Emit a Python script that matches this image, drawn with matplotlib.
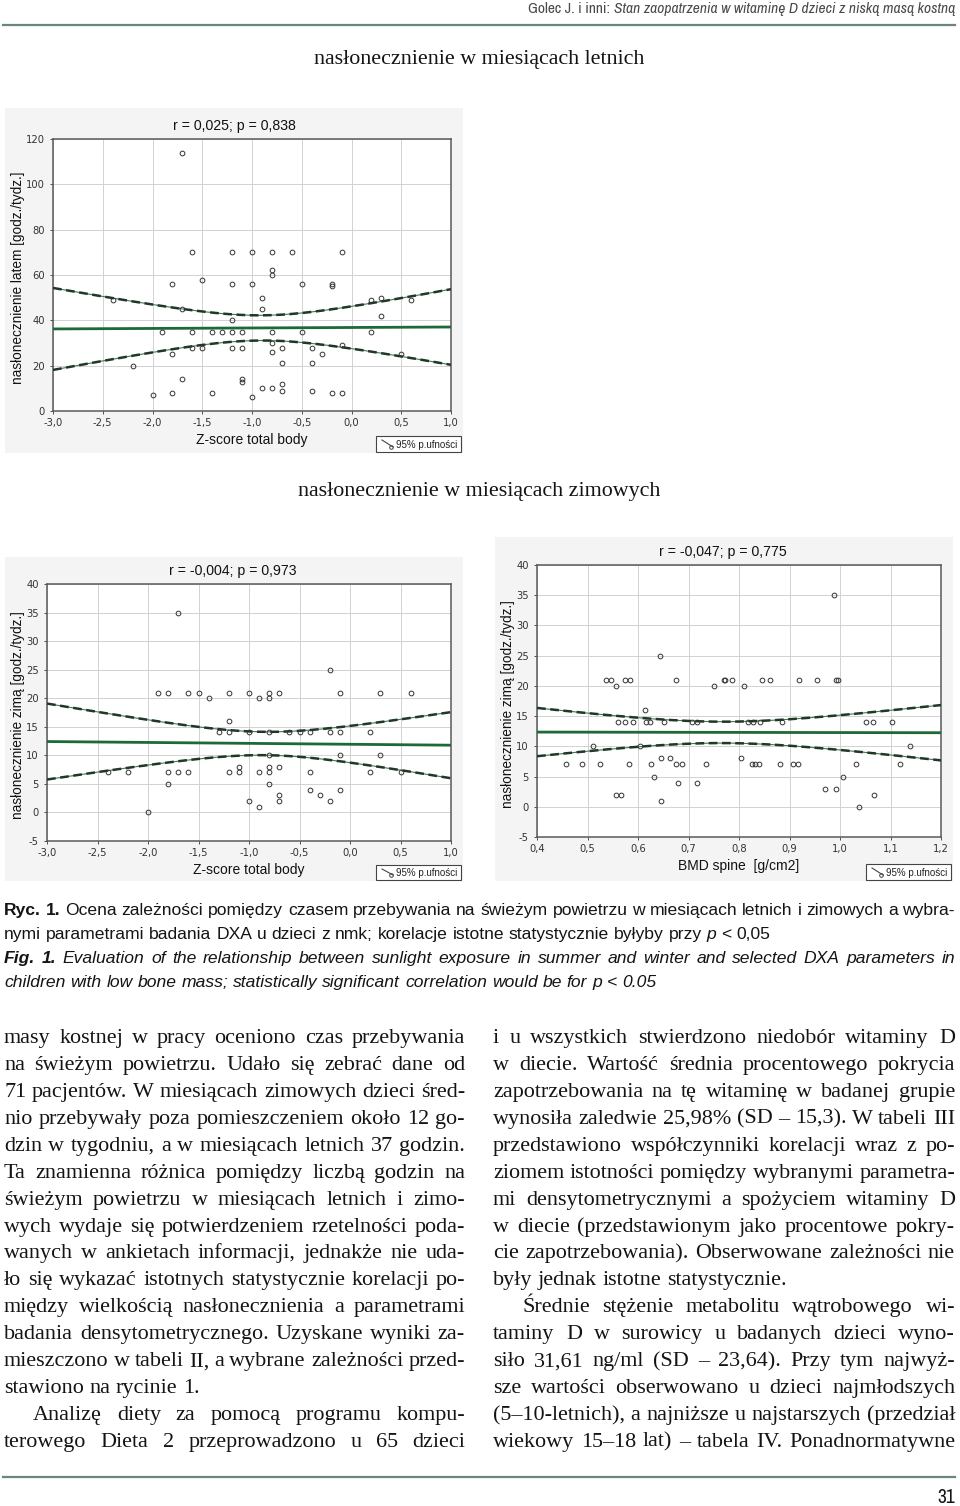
import numpy as np
import matplotlib
matplotlib.use("Agg")
from matplotlib import pyplot as plt
from matplotlib import font_manager
from matplotlib.patches import Rectangle
from matplotlib.lines import Line2D
from matplotlib.ticker import FuncFormatter, MultipleLocator

W, H = 960, 1506

# --- data ---
summer_z = [-1.7, -1.6, -1.2, -1.0, -0.8, -0.6, -0.1,
            -1.8, -1.5, -1.2, -1.0, -0.8, -0.8, -0.5, -0.2, -0.2,
            -2.4, -1.7, -0.9, -0.9, 0.2, 0.3, 0.6, 0.3, -1.2,
            -1.9, -1.6, -1.4, -1.3, -1.2, -1.1, -0.8, -0.5, 0.2,
            -0.8, -1.6, -1.5, -1.2, -1.1, -0.7, -0.4, -0.1,
            -1.8, -0.8, -0.3, 0.5, -2.2, -0.7, -0.4,
            -1.7, -1.1, -1.1, -0.7, -0.9, -0.8, -0.7, -0.4,
            -2.0, -1.8, -1.4, -1.0, -0.2, -0.1]
summer_h = [114, 70, 70, 70, 70, 70, 70,
            56, 58, 56, 56, 62, 60, 56, 56, 55,
            49, 45, 50, 45, 49, 50, 49, 42, 40,
            35, 35, 35, 35, 35, 35, 35, 35, 35,
            30, 28, 28, 28, 28, 28, 28, 29,
            25, 26, 25, 25, 20, 21, 21,
            14, 14, 13, 12, 10, 10, 9, 9,
            7, 8, 8, 6, 8, 8]

winter_z = [-1.7, -0.2,
            -1.9, -1.8, -1.6, -1.5, -1.2, -1.0, -0.8, -0.7, -0.1, 0.3, 0.6,
            -1.4, -0.9, -0.8, -1.2,
            -1.3, -1.2, -1.0, -0.8, -0.6, -0.5, -0.4, -0.2, -0.1, 0.2,
            -0.8, -0.1, 0.3, -1.1, -0.8, -0.7,
            -2.4, -2.2, -1.8, -1.7, -1.6, -1.2, -1.1, -0.9, -0.8, -0.4, 0.2, 0.5,
            -1.8, -0.8, -0.4, -0.1, -0.3, -0.7, -1.0, -0.7, -0.2, -0.9, -2.0]
winter_zh = [35, 25,
             21, 21, 21, 21, 21, 21, 21, 21, 21, 21, 21,
             20, 20, 20, 16,
             14, 14, 14, 14, 14, 14, 14, 14, 14, 14,
             10, 10, 10, 8, 8, 8,
             7, 7, 7, 7, 7, 7, 7, 7, 7, 7, 7, 7,
             5, 5, 4, 4, 3, 3, 2, 2, 2, 1, 0]

spine_bmd = [0.989, 0.644,
             0.537, 0.547, 0.575, 0.585, 0.676, 0.770, 0.773, 0.787, 0.845, 0.862,
             0.918, 0.955, 0.993, 0.997,
             0.556, 0.750, 0.809, 0.613,
             0.560, 0.575, 0.590, 0.616, 0.624, 0.652, 0.706, 0.717, 0.817, 0.828,
             0.841, 0.886, 1.052, 1.065, 1.102,
             0.510, 0.603, 1.139, 0.645, 0.664, 0.804,
             0.457, 0.490, 0.525, 0.582, 0.626, 0.675, 0.688, 0.735, 0.826, 0.832,
             0.840, 0.882, 0.906, 0.917, 1.031, 1.119,
             0.632, 1.005, 0.679, 0.716, 0.970, 0.992, 0.556, 0.566, 1.067, 0.645, 1.037]
spine_h = [35, 25,
           21, 21, 21, 21, 21, 21, 21, 21, 21, 21,
           21, 21, 21, 21,
           20, 20, 20, 16,
           14, 14, 14, 14, 14, 14, 14, 14, 14, 14,
           14, 14, 14, 14, 14,
           10, 10, 10, 8, 8, 8,
           7, 7, 7, 7, 7, 7, 7, 7, 7, 7,
           7, 7, 7, 7, 7, 7,
           5, 5, 4, 4, 3, 3, 2, 2, 2, 1, 0]

titles = ["r = 0,025; p = 0,838", "r = -0,004; p = 0,973", "r = -0,047; p = 0,775"]
ylabels = ["nasłonecznienie latem [godz./tydz.]",
           "nasłonecznienie zimą [godz./tydz.]",
           "nasłonecznienie zimą [godz./tydz.]"]
xlabels = ["Z-score total body", "Z-score total body", "BMD spine  [g/cm2]"]
legend_text = "95% p.ufności"

header_a = "Golec J. i inni: "
header_b = "Stan zaopatrzenia w witaminę D dzieci z niską masą kostną"
section1 = "nasłonecznienie w miesiącach letnich"
section2 = "nasłonecznienie w miesiącach zimowych"

left_col = [
    "masy kostnej w pracy oceniono czas przebywania",
    "na świeżym powietrzu. Udało się zebrać dane od",
    "71 pacjentów. W miesiącach zimowych dzieci śred-",
    "nio przebywały poza pomieszczeniem około 12 go-",
    "dzin w tygodniu, a w miesiącach letnich 37 godzin.",
    "Ta znamienna różnica pomiędzy liczbą godzin na",
    "świeżym powietrzu w miesiącach letnich i zimo-",
    "wych wydaje się potwierdzeniem rzetelności poda-",
    "wanych w ankietach informacji, jednakże nie uda-",
    "ło się wykazać istotnych statystycznie korelacji po-",
    "między wielkością nasłonecznienia a parametrami",
    "badania densytometrycznego. Uzyskane wyniki za-",
    "mieszczono w tabeli II, a wybrane zależności przed-",
    "stawiono na rycinie 1.",
    "Analizę diety za pomocą programu kompu-",
    "terowego Dieta 2 przeprowadzono u 65 dzieci",
]
right_col = [
    "i u wszystkich stwierdzono niedobór witaminy D",
    "w diecie. Wartość średnia procentowego pokrycia",
    "zapotrzebowania na tę witaminę w badanej grupie",
    "wynosiła zaledwie 25,98% (SD – 15,3). W tabeli III",
    "przedstawiono współczynniki korelacji wraz z po-",
    "ziomem istotności pomiędzy wybranymi parametra-",
    "mi densytometrycznymi a spożyciem witaminy D",
    "w diecie (przedstawionym jako procentowe pokry-",
    "cie zapotrzebowania). Obserwowane zależności nie",
    "były jednak istotne statystycznie.",
    "Średnie stężenie metabolitu wątrobowego wi-",
    "taminy D w surowicy u badanych dzieci wyno-",
    "siło 31,61 ng/ml (SD – 23,64). Przy tym najwyż-",
    "sze wartości obserwowano u dzieci najmłodszych",
    "(5–10-letnich), a najniższe u najstarszych (przedział",
    "wiekowy 15–18 lat) – tabela IV. Ponadnormatywne",
]
left_last = [13]      # lines not justified
left_indent = [14]
right_last = [9]
right_indent = [10]

# --- fonts ---
names = {f.name for f in font_manager.fontManager.ttflist}
if "Liberation Sans Narrow" in names:
    NARROW = "Liberation Sans Narrow"
elif "Archivo Narrow" in names:
    NARROW = "Archivo Narrow"
else:
    NARROW = "Liberation Sans"
SANS = "Liberation Sans"
SERIF = "Liberation Serif"

fig = plt.figure(figsize=(9.6, 15.06), dpi=100)
fig.patch.set_facecolor("white")
rend = fig.canvas.get_renderer()


def fx(x):
    return x / W


def fy(y):
    return 1 - y / H


def text_w(s, size, family, **kw):
    t = fig.text(0, 0, s, fontsize=size, family=family, **kw)
    w = t.get_window_extent(rend).width
    t.remove()
    return w


def put_line(toks, x0, x1, y, size, family, justify=True, indent=0, color="#141414"):
    objs, widths = [], []
    for w, st in toks:
        t = fig.text(0, 0, w, fontsize=size, family=family, color=color, va="baseline", **st)
        objs.append(t)
        widths.append(t.get_window_extent(rend).width)
    sp = text_w("x x", size, family) - text_w("xx", size, family)
    if justify and len(objs) > 1:
        gap = (x1 - x0 - indent - sum(widths)) / (len(objs) - 1)
    else:
        gap = sp
    x = x0 + indent
    for t, w in zip(objs, widths):
        t.set_position((fx(x), fy(y)))
        x += w + gap


def words(s, **st):
    return [(w, st) for w in s.split()]


def hline(y, x0=3, x1=955):
    fig.add_artist(Line2D([fx(x0), fx(x1)], [fy(y), fy(y)], transform=fig.transFigure,
                          color="#6a8878", lw=1.6))


def fit_band(x, y, lo, hi):
    x = np.asarray(x, float)
    y = np.asarray(y, float)
    b, a = np.polyfit(x, y, 1)
    xs = np.linspace(lo, hi, 200)
    n = len(x)
    s = np.sqrt(np.sum((y - (a + b * x)) ** 2) / (n - 2))
    sxx = np.sum((x - x.mean()) ** 2)
    se = s * np.sqrt(1 / n + (xs - x.mean()) ** 2 / sxx)
    return xs, a + b * xs, 2.0 * se


def comma(dec):
    return FuncFormatter(lambda v, p: f"{v:.{dec}f}".replace(".", ","))


def panel(box, axbox, x, y, xlim, xstep, ylim, ystep, title, xlabel, ylabel, leg,
          ylab_x, title_x):
    # light grey graph area
    bx0, by0, bx1, by1 = box
    fig.add_artist(Rectangle((fx(bx0), fy(by1)), fx(bx1 - bx0), (by1 - by0) / H,
                             transform=fig.transFigure, facecolor="#f4f4f4",
                             edgecolor="none", zorder=0))
    l, t, r, b = axbox
    ax = fig.add_axes([fx(l), fy(b), fx(r - l), (b - t) / H])
    ax.set_facecolor("white")
    ax.set_xlim(xlim)
    ax.set_ylim(ylim)
    ax.xaxis.set_major_locator(MultipleLocator(xstep))
    ax.yaxis.set_major_locator(MultipleLocator(ystep))
    ax.xaxis.set_major_formatter(comma(1))
    ax.yaxis.set_major_formatter(comma(0))
    ax.grid(True, color="#d2d2d2", lw=0.7)
    ax.set_axisbelow(True)
    for sp in ax.spines.values():
        sp.set_color("#5a5a5a")
        sp.set_linewidth(1.1)
    ax.tick_params(labelsize=7.2, colors="#333333", length=2, width=0.6, pad=3)
    ax.tick_params(axis="y", pad=4)

    xs, yf, ci = fit_band(x, y, xlim[0], xlim[1])
    ax.plot(xs, yf, color="#1e6a34", lw=2.0, zorder=3)
    for band in (yf + ci, yf - ci):
        ax.plot(xs, band, color="#3f7a4f", lw=0.8, zorder=3)
        ax.plot(xs, band, color="#22372a", lw=1.8, ls=(0, (3.5, 1.8)), zorder=3)
    ax.plot(x, y, ls="none", marker="o", ms=3.4, mfc="none", mec="#333333",
            mew=0.7, zorder=4)

    ax.text((title_x - l) / (r - l), 1 + 13 / (b - t), title, transform=ax.transAxes,
            ha="center", va="center", fontsize=10.2, family=SANS, color="#111111")
    ax.set_xlabel(xlabel, fontsize=10, family=SANS, color="#111111")
    ax.xaxis.label.set_va("center")
    ax.xaxis.set_label_coords(0.5, -29 / (b - t))
    ax.set_ylabel(ylabel, fontsize=9.8, family=SANS, color="#111111")
    ax.yaxis.label.set_va("center")
    ax.yaxis.set_label_coords((ylab_x - l) / (r - l), 0.49)

    # legend box
    lx0, ly0, lx1, ly1 = leg
    fig.add_artist(Rectangle((fx(lx0), fy(ly1)), fx(lx1 - lx0), (ly1 - ly0) / H,
                             transform=fig.transFigure, facecolor="white",
                             edgecolor="#444444", lw=0.8, zorder=5))
    fig.add_artist(Line2D([fx(lx0 + 6), fx(lx0 + 17)], [fy(ly0 + 4), fy(ly1 - 5)],
                          transform=fig.transFigure, color="#444444", lw=0.8, zorder=6))
    fig.add_artist(Line2D([fx(lx0 + 15)], [fy(ly1 - 5)], transform=fig.transFigure,
                          marker="o", ms=2.6, mfc="none", mec="#444444", mew=0.7, zorder=6))
    fig.text(fx(lx0 + 20), fy((ly0 + ly1) / 2 + 0.5), legend_text, fontsize=7, family=SANS,
             ha="left", va="center", color="#222222", zorder=6)
    return ax


# --- header ---
hsize = 10.5
full = text_w(header_a + header_b, hsize, NARROW, style="italic")
hsize = hsize * 428 / full
hb = text_w(header_b, hsize, NARROW, style="italic")
fig.text(fx(955), fy(13), header_b, fontsize=hsize, family=NARROW, style="italic",
         ha="right", va="baseline", color="#4a4a4a")
fig.text(fx(955 - hb), fy(13), header_a, fontsize=hsize, family=NARROW,
         ha="right", va="baseline", color="#4a4a4a")
hline(25)

fig.text(fx(479), fy(64), section1, fontsize=15.8, family=SERIF, ha="center",
         va="baseline", color="#141414")
fig.text(fx(479), fy(496), section2, fontsize=15.8, family=SERIF, ha="center",
         va="baseline", color="#141414")

# --- charts ---
panel((5, 108, 463, 453), (53, 139, 451, 411), summer_z, summer_h,
      (-3, 1), 0.5, (0, 120), 20, titles[0], xlabels[0], ylabels[0],
      (376, 436, 461, 452), 18, 234)
panel((5, 557, 463, 881), (47, 584, 451, 841), winter_z, winter_zh,
      (-3, 1), 0.5, (-5, 40), 5, titles[1], xlabels[1], ylabels[1],
      (376, 865, 461, 880), 18, 233)
panel((495, 537, 953, 881), (537, 565, 941, 837), spine_bmd, spine_h,
      (0.4, 1.2), 0.1, (-5, 40), 5, titles[2], xlabels[2], ylabels[2],
      (866, 864, 951, 880), 508, 723)

# --- caption ---
cap = 12.6
put_line(words("Ryc. 1.", weight="bold") +
         words("Ocena zależności pomiędzy czasem przebywania na świeżym powietrzu "
               "w miesiącach letnich i zimowych a wybra-"),
         4, 955, 915, cap, SANS)
put_line(words("nymi parametrami badania DXA u dzieci z nmk; korelacje istotne "
               "statystycznie byłyby przy") + words("p", style="italic") + words("< 0,05"),
         4, 773, 939, cap, SANS, justify=False)
put_line(words("Fig. 1.", weight="bold", style="italic") +
         words("Evaluation of the relationship between sunlight exposure in summer and "
               "winter and selected DXA parameters in", style="italic"),
         4, 955, 963, cap, SANS)
put_line(words("children with low bone mass; statistically significant correlation "
               "would be for p < 0.05", style="italic"),
         4, 673, 987, cap, SANS, justify=False)

# --- body text, two justified columns ---
body = 15.9
for i, s in enumerate(left_col):
    put_line(words(s), 4, 465, 1043 + i * 26.93, body, SERIF,
             justify=i not in left_last, indent=29 if i in left_indent else 0)
for i, s in enumerate(right_col):
    put_line(words(s), 493, 955, 1043 + i * 26.93, body, SERIF,
             justify=i not in right_last, indent=29 if i in right_indent else 0)

hline(1477)
fig.text(fx(955), fy(1503), "31", fontsize=14, family=NARROW, ha="right",
         va="baseline", color="#141414")

fig.savefig("out.png", dpi=100)
